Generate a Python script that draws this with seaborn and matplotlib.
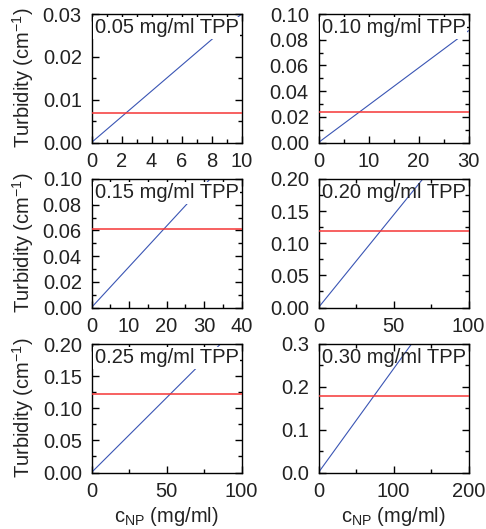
import numpy as np
import pandas as pd
import matplotlib
matplotlib.use("Agg")
import matplotlib.pyplot as plt
import seaborn as sns
from matplotlib.ticker import MultipleLocator, AutoMinorLocator

sns.set_theme(style="white")
plt.rcParams['font.family'] = ['Liberation Sans', 'DejaVu Sans']
plt.rcParams['mathtext.fontset'] = 'custom'
plt.rcParams['mathtext.rm'] = 'Liberation Sans'
plt.rcParams['mathtext.it'] = 'Liberation Sans'

# Data
labels = ["0.05 mg/ml TPP", "0.10 mg/ml TPP", "0.15 mg/ml TPP",
          "0.20 mg/ml TPP", "0.25 mg/ml TPP", "0.30 mg/ml TPP"]
x_max = [10, 30, 40, 100, 100, 200]
y_max = [0.03, 0.10, 0.10, 0.20, 0.20, 0.3]
x_step = [2, 10, 10, 50, 50, 100]
y_step = [0.01, 0.02, 0.02, 0.05, 0.05, 0.1]
y_fmt = ["%.2f", "%.2f", "%.2f", "%.2f", "%.2f", "%.1f"]
red_level = [0.007, 0.024, 0.061, 0.119, 0.122, 0.178]
# blue line endpoints (start at origin)
blue_x_end = [10, 30, 31.6, 69.5, 86, 124]
blue_y_end = [0.030, 0.087, 0.100, 0.200, 0.200, 0.300]
label_box = [True, True, True, False, True, False]

W, H = 486, 529
fig = plt.figure(figsize=(W / 100, H / 100), dpi=100)

lefts = [91.5, 318.5]
width = 150
tops = [14, 179, 344]
height = 128.5
FS = 14.5
TC = "#222222"

for i in range(6):
    r, c = divmod(i, 2)
    ax = fig.add_axes([lefts[c] / W, 1 - (tops[r] + height) / H, width / W, height / H])
    df_b = pd.DataFrame({"x": [0, blue_x_end[i]], "y": [0, blue_y_end[i]]})
    df_r = pd.DataFrame({"x": [0, x_max[i]], "y": [red_level[i], red_level[i]]})
    sns.lineplot(data=df_b, x="x", y="y", ax=ax, color="#3a55b4", lw=0.8, zorder=2)
    sns.lineplot(data=df_r, x="x", y="y", ax=ax, color="#f53535", lw=1.1, zorder=3)
    ax.set_xlim(0, x_max[i])
    ax.set_ylim(0, y_max[i])
    ax.xaxis.set_major_locator(MultipleLocator(x_step[i]))
    ax.yaxis.set_major_locator(MultipleLocator(y_step[i]))
    ax.xaxis.set_minor_locator(AutoMinorLocator(2))
    ax.yaxis.set_minor_locator(AutoMinorLocator(2))
    ax.yaxis.set_major_formatter(matplotlib.ticker.FormatStrFormatter(y_fmt[i]))
    ax.tick_params(which="both", direction="in", top=True, right=True,
                   left=True, bottom=True, color="black")
    ax.tick_params(which="major", length=5, width=1, labelsize=FS, pad=7,
                   labelcolor=TC)
    ax.tick_params(which="minor", length=3, width=1)
    for s in ax.spines.values():
        s.set_color("black")
        s.set_linewidth(1)
    ax.set_xlabel("")
    ax.set_ylabel("")
    kw = dict(transform=ax.transAxes, va="top", ha="left", fontsize=FS,
              color=TC, zorder=5)
    if label_box[i]:
        kw["bbox"] = dict(facecolor="white", edgecolor="none", pad=1.0)
    ax.text(0.02, 0.965, labels[i], **kw)
    if c == 0:
        ax.set_ylabel(r"Turbidity (cm$^{-1}$)", fontsize=FS, color=TC, labelpad=5)
    if r == 2:
        ax.set_xlabel(r"c$_{\mathrm{NP}}$ (mg/ml)", fontsize=FS, color=TC, labelpad=3)

fig.savefig("out.png", dpi=100)
